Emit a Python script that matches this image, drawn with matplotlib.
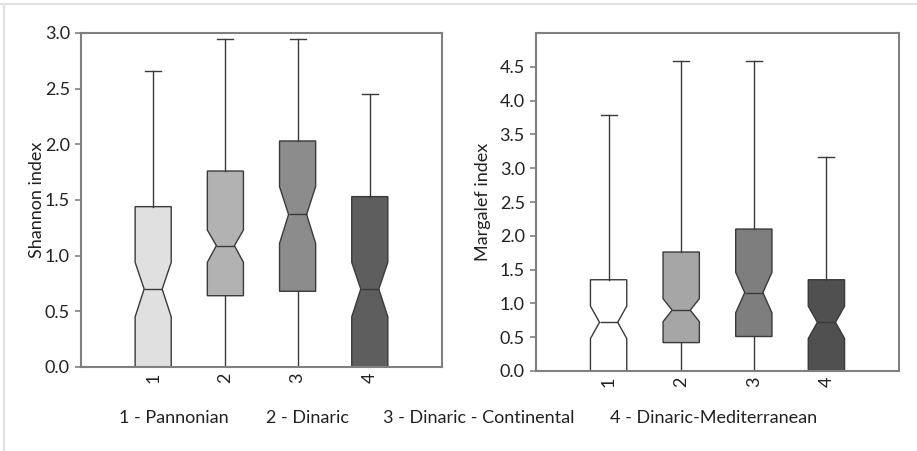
import matplotlib
matplotlib.use("Agg")
import matplotlib.pyplot as plt
from matplotlib.lines import Line2D

plt.rcParams['font.family'] = ['Lato', 'DejaVu Sans']

groups = ["1", "2", "3", "4"]
legend_labels = ["1 - Pannonian", "2 - Dinaric", "3 - Dinaric - Continental",
                 "4 - Dinaric-Mediterranean"]

# Shannon index box stats
sh_whislo = [0.0, 0.0, 0.0, 0.0]
sh_q1 = [0.0, 0.64, 0.68, 0.0]
sh_med = [0.70, 1.09, 1.37, 0.70]
sh_q3 = [1.44, 1.76, 2.03, 1.53]
sh_whishi = [2.66, 2.95, 2.95, 2.45]
sh_cilo = [0.45, 0.94, 1.11, 0.45]
sh_cihi = [0.94, 1.23, 1.62, 0.94]

# Margalef index box stats
mg_whislo = [0.0, 0.0, 0.0, 0.0]
mg_q1 = [0.0, 0.42, 0.51, 0.0]
mg_med = [0.72, 0.90, 1.16, 0.72]
mg_q3 = [1.35, 1.76, 2.10, 1.35]
mg_whishi = [3.79, 4.59, 4.59, 3.17]
mg_cilo = [0.48, 0.73, 0.86, 0.48]
mg_cihi = [0.96, 1.07, 1.46, 0.96]

sh_colors = ["#e0e0e0", "#b2b2b2", "#8c8c8c", "#5e5e5e"]
mg_colors = ["#ffffff", "#a6a6a6", "#7e7e7e", "#505050"]


def make_stats(lo, q1, med, q3, hi, cilo, cihi):
    stats = []
    for i in range(len(groups)):
        stats.append({"whislo": lo[i], "q1": q1[i], "med": med[i], "q3": q3[i],
                      "whishi": hi[i], "cilo": cilo[i], "cihi": cihi[i],
                      "fliers": []})
    return stats


def draw_panel(ax, stats, colors, ylabel, ylim, yticks, labelpad):
    line = dict(color="#3a3a3a", linewidth=1.0)
    bp = ax.bxp(stats, positions=[1, 2, 3, 4], widths=0.5, shownotches=True,
                patch_artist=True, showfliers=False, capwidths=0.22,
                boxprops=dict(edgecolor="#3a3a3a", linewidth=1.0),
                whiskerprops=line, capprops=line, medianprops=line)
    for patch, c in zip(bp["boxes"], colors):
        patch.set_facecolor(c)
    ax.set_xlim(0, 5)
    ax.set_ylim(*ylim)
    ax.set_yticks(yticks)
    ax.set_yticklabels(["%.1f" % t for t in yticks])
    ax.set_xticks([1, 2, 3, 4])
    ax.set_xticklabels(groups, rotation=90)
    ax.tick_params(axis="x", length=0, pad=4, labelsize=13, colors="#222222")
    ax.tick_params(axis="y", length=4, width=1.2, color="#808080", pad=4,
                   labelsize=13, labelcolor="#222222")
    for s in ax.spines.values():
        s.set_color("#808080")
        s.set_linewidth(1.5)
    ax.set_ylabel(ylabel, fontsize=13, color="#222222", labelpad=labelpad)


fig = plt.figure(figsize=(9.17, 4.51), dpi=100)

ax1 = fig.add_axes([0.0883, 0.1863, 0.3937, 0.7406])
draw_panel(ax1, make_stats(sh_whislo, sh_q1, sh_med, sh_q3, sh_whishi, sh_cilo, sh_cihi),
           sh_colors, "Shannon index", (0, 3.0), [0.0, 0.5, 1.0, 1.5, 2.0, 2.5, 3.0], 0)

ax2 = fig.add_axes([0.5845, 0.1774, 0.3959, 0.7494])
draw_panel(ax2, make_stats(mg_whislo, mg_q1, mg_med, mg_q3, mg_whishi, mg_cilo, mg_cihi),
           mg_colors, "Margalef index", (0, 5.0),
           [0.0, 0.5, 1.0, 1.5, 2.0, 2.5, 3.0, 3.5, 4.0, 4.5], 6)

# legend text row along the bottom
legend_x = [119, 266, 383, 610]
for x, lab in zip(legend_x, legend_labels):
    fig.text(x / 917, 1 - 418 / 451, lab, fontsize=13, color="#222222",
             ha="left", va="center")

# thin frame round the picture
fig.add_artist(Line2D([0, 1], [1 - 4 / 451] * 2, color="#e0e0dc", linewidth=1.5))
fig.add_artist(Line2D([4 / 917] * 2, [0, 1 - 4 / 451], color="#e0e0dc", linewidth=1.5))

fig.savefig("out.png", dpi=100)
